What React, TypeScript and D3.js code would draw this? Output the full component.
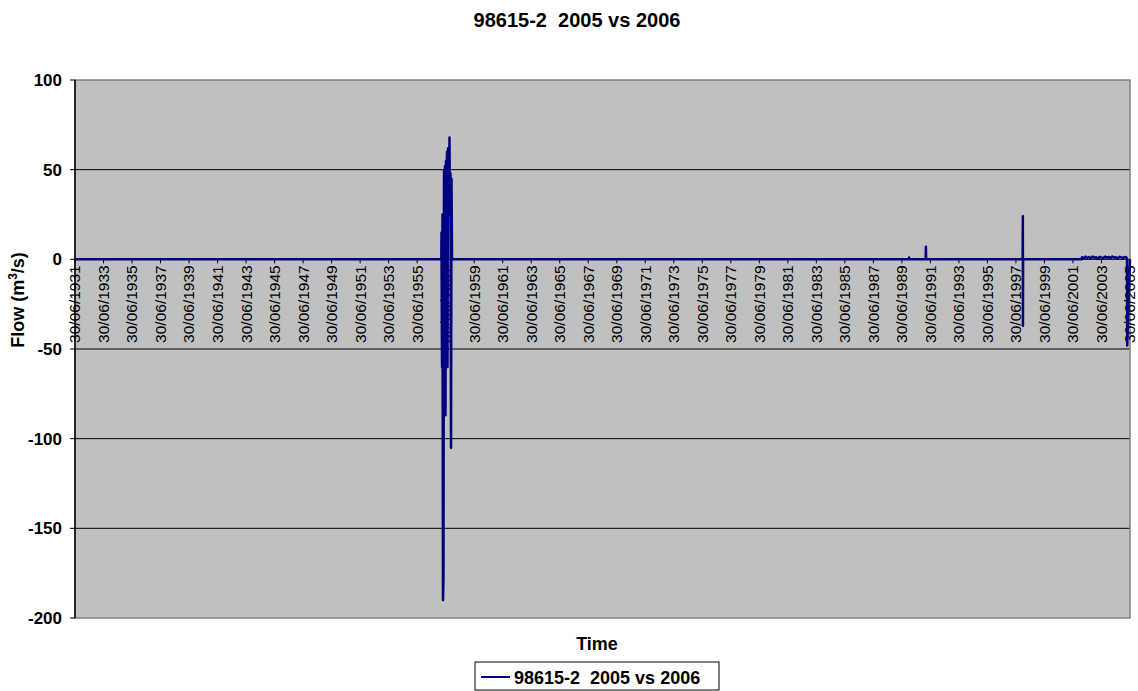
import React from "react";
import * as d3 from "d3";

const title = "98615-2  2005 vs 2006";
const seriesName = "98615-2  2005 vs 2006";
const xTitle = "Time";
const startDate = "30/06/1931";
const endDate = "30/06/2005";
const yTicks = [100, 50, 0, -50, -100, -150, -200];
const tickYears = d3.range(1931, 2006, 2);

// [date, flow difference m3/s]
const flowDates = [
  "30/06/1931", "10/03/1957", "14/03/1957", "28/03/1957", "08/04/1957", "22/04/1957",
  "04/05/1957", "18/05/1957", "30/05/1957", "13/06/1957", "25/06/1957", "08/07/1957",
  "20/07/1957", "03/08/1957", "15/08/1957", "29/08/1957", "24/09/1957", "05/10/1957",
  "19/10/1957", "31/10/1957", "14/11/1957", "26/11/1957", "10/12/1957",
  "20/12/1989", "01/01/1990", "12/01/1990", "01/03/1991", "07/03/1991", "13/03/1991",
  "18/12/1997", "24/12/1997", "26/12/1997", "30/12/1997",
  "10/02/2002", "15/02/2002", "01/04/2002", "20/05/2002", "01/07/2002", "15/08/2002",
  "01/10/2002", "15/11/2002", "01/01/2003", "15/02/2003", "01/04/2003", "15/05/2003",
  "01/07/2003", "15/08/2003", "01/10/2003", "15/11/2003", "01/01/2004", "15/02/2004",
  "01/04/2004", "15/05/2004", "01/07/2004", "15/08/2004", "01/10/2004", "15/11/2004",
  "01/01/2005", "15/02/2005", "01/04/2005", "15/04/2005", "20/04/2005", "30/06/2005"
];
const flowValues = [
  0, 0, 15, -60, 25, -190,
  -178, 50, -40, 52, -87, 55,
  20, 60, -60, 62, 30, 68,
  25, 48, -105, 45, 0,
  0, 1, 0, 0, 7, 0,
  0, 24, -37, 0,
  0, 1.2, 0.6, 1.5, 0.8, 1.3,
  0.5, 1.6, 0.9, 1.2, 0.4, 1.4,
  1.0, 0.6, 1.5, 0.9, 1.3, 0.7,
  1.6, 1.0, 1.2, 0.5, 1.4, 1.1,
  0.8, 1.3, 1.0, 0, -48, 0
];

const W = 1138, H = 691;
const M = { left: 75, right: 1130, top: 80, bottom: 618 };
const parse = d3.timeParse("%d/%m/%Y");

export default function App() {
  const x = d3.scaleTime()
    .domain([parse(startDate)!, parse(endDate)!])
    .range([M.left, M.right]);
  const y = d3.scaleLinear().domain([-200, 100]).range([M.bottom, M.top]);
  const data = flowDates.map((d, i) => ({ d: parse(d)!, v: flowValues[i] }));
  const line = d3.line<{ d: Date; v: number }>().x(p => x(p.d)).y(p => y(p.v));
  const font = "'Liberation Sans', Arial, sans-serif";
  const y0 = y(0);

  return (
    <svg width={W} height={H} style={{ position: "absolute", left: 0, top: 0, background: "#fff", whiteSpace: "pre" }} fontFamily={font}>
      <text x={577} y={27} textAnchor="middle" fontWeight="bold" fontSize={20} style={{ whiteSpace: "pre" }}>{title}</text>
      <rect x={M.left} y={M.top} width={M.right - M.left} height={M.bottom - M.top} fill="#C0C0C0" />
      {yTicks.filter(t => t !== 100 && t !== -200).map(t => (
        <line key={t} x1={M.left} x2={M.right} y1={y(t)} y2={y(t)} stroke="#000" strokeWidth={1} />
      ))}
      <rect x={M.left} y={M.top} width={M.right - M.left} height={M.bottom - M.top} fill="none" stroke="#808080" strokeWidth={1.5} />
      <line x1={M.left} x2={M.left} y1={M.top} y2={M.bottom} stroke="#000" strokeWidth={1.5} />
      {yTicks.map(t => (
        <g key={t}>
          <line x1={M.left - 5} x2={M.left} y1={y(t)} y2={y(t)} stroke="#000" />
          <text x={62} y={y(t)} dy="0.35em" textAnchor="end" fontWeight="bold" fontSize={17}>{t}</text>
        </g>
      ))}
      {tickYears.map(yr => {
        const tx = x(parse(`30/06/${yr}`)!);
        return (
          <g key={yr}>
            <line x1={tx} x2={tx} y1={y0} y2={y0 + 4} stroke="#000" />
            <text transform={`translate(${tx},${y0 + 6}) rotate(-90)`} dy="0.35em" textAnchor="end" fontSize={15.5}>{`30/06/${yr}`}</text>
          </g>
        );
      })}
      <path d={line(data) || ""} fill="none" stroke="#000080" strokeWidth={2.5} strokeLinejoin="round" />
      <text transform={`translate(24,300) rotate(-90)`} textAnchor="middle" fontWeight="bold" fontSize={18}>
        Flow (m<tspan dy={-7} fontSize={12}>3</tspan><tspan dy={7}>/s)</tspan>
      </text>
      <text x={597} y={650} textAnchor="middle" fontWeight="bold" fontSize={18}>{xTitle}</text>
      <rect x={475} y={662} width={244} height={28} fill="#fff" stroke="#000" strokeWidth={1} />
      <line x1={481} x2={510} y1={677} y2={677} stroke="#000080" strokeWidth={2} />
      <text x={514} y={684} fontWeight="bold" fontSize={18} style={{ whiteSpace: "pre" }}>{seriesName}</text>
    </svg>
  );
}
